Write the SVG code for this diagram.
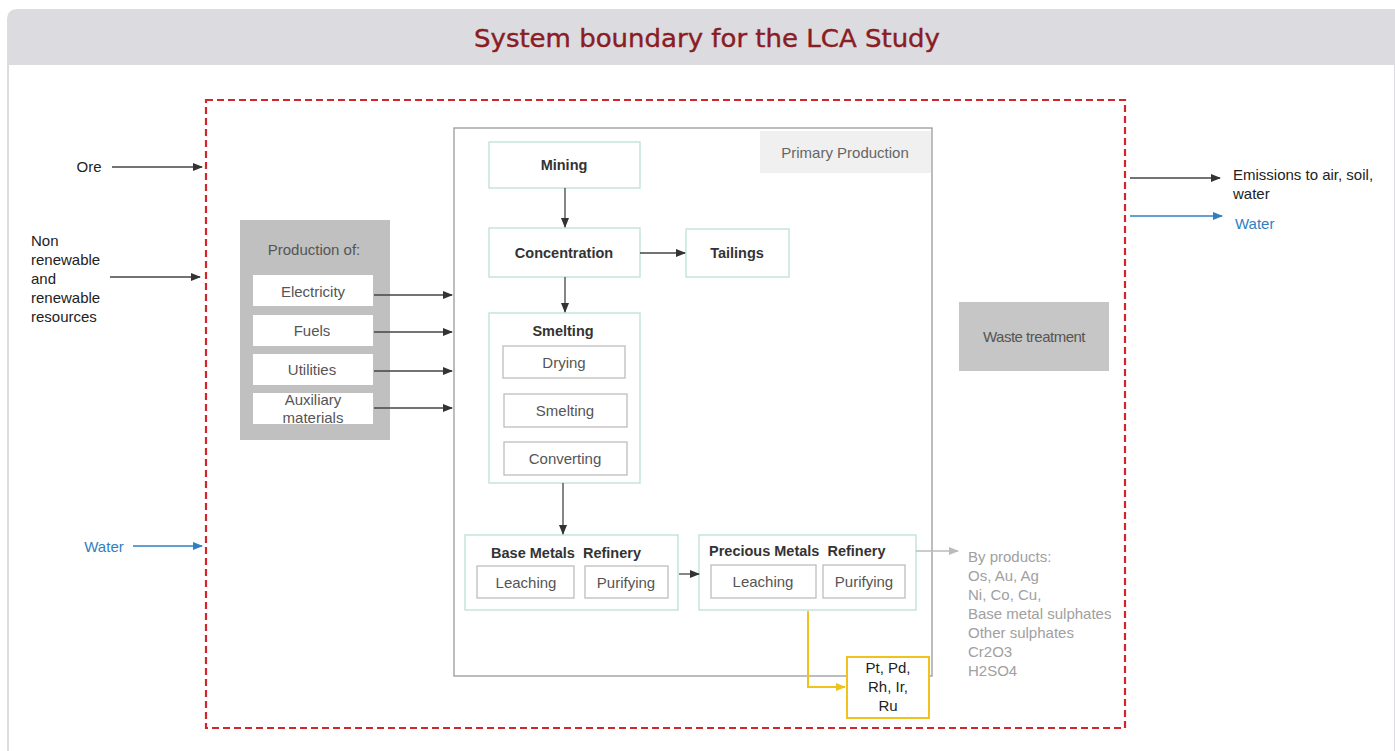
<svg xmlns="http://www.w3.org/2000/svg" width="1395" height="751" viewBox="0 0 1395 751">
<defs>
<style>
.t{font-family:"Liberation Sans",Arial,sans-serif;}
.box{fill:#fff;stroke:#c5e3de;stroke-width:1.5;}
.sub{fill:#fff;stroke:#b8b8b8;stroke-width:1.2;}
.wb{fill:#fff;stroke:none;}
.lbl{font-size:15px;fill:#555;text-anchor:middle;}
.bold{font-size:14.5px;font-weight:bold;fill:#333;text-anchor:middle;}
.c{stroke:#444;stroke-width:1.3;fill:none;}
.blue{stroke:#2f7fc1;stroke-width:1.3;fill:none;}
</style>
<marker id="ab" markerWidth="10" markerHeight="8" refX="9" refY="4" orient="auto" markerUnits="userSpaceOnUse"><path d="M0,0 L10,4 L0,8 z" fill="#333"/></marker>
<marker id="abl" markerWidth="10" markerHeight="8" refX="9" refY="4" orient="auto" markerUnits="userSpaceOnUse"><path d="M0,0 L10,4 L0,8 z" fill="#2f7fc1"/></marker>
<marker id="ag" markerWidth="10" markerHeight="8" refX="9" refY="4" orient="auto" markerUnits="userSpaceOnUse"><path d="M0,0 L10,4 L0,8 z" fill="#bbb"/></marker>
<marker id="ay" markerWidth="10" markerHeight="8" refX="9" refY="4" orient="auto" markerUnits="userSpaceOnUse"><path d="M0,0 L10,4 L0,8 z" fill="#f0c21a"/></marker>
</defs>
<rect width="1395" height="751" fill="#fff"/>
<g id="frame">
<path d="M8,751 V20 Q8,10 18,10 H1395 V751" fill="#fff" stroke="#dcdce0" stroke-width="2"/>
<path d="M8,65 V20 Q8,10 18,10 H1395 V65 Z" fill="#dcdce0"/>
<text x="707" y="47" font-family="DejaVu Sans,Verdana,sans-serif" font-size="25" fill="#8a1c24" stroke="#8a1c24" stroke-width="0.4" text-anchor="middle" textLength="466" lengthAdjust="spacingAndGlyphs">System boundary for the LCA Study</text>
</g>
<g id="boundary">
<rect x="206" y="100" width="919" height="628" fill="none" stroke="#d0272f" stroke-width="2.2" stroke-dasharray="7,4"/>
</g>
<g id="primary-production">
<rect x="454" y="128" width="478" height="548" fill="#fff" stroke="#9a9a9a" stroke-width="1.3"/>
<rect x="760" y="131" width="171" height="42" fill="#f0f0f0"/>
<text class="t" x="845" y="158" font-size="15" fill="#666" text-anchor="middle">Primary Production</text>
</g>
<g id="mining"><rect class="box" x="489" y="142" width="151" height="46"/><text class="t bold" x="564" y="170">Mining</text></g>
<g id="concentration"><rect class="box" x="489" y="228" width="151" height="49"/><text class="t bold" x="564" y="258">Concentration</text></g>
<g id="tailings"><rect class="box" x="686" y="229" width="103" height="48"/><text class="t bold" x="737" y="258">Tailings</text></g>
<g id="smelting">
<rect class="box" x="489" y="313" width="151" height="170"/>
<text class="t bold" x="563" y="336">Smelting</text>
<rect class="sub" x="503" y="346" width="122" height="32"/><text class="t lbl" x="564" y="368">Drying</text>
<rect class="sub" x="504" y="394" width="123" height="33"/><text class="t lbl" x="565" y="416">Smelting</text>
<rect class="sub" x="504" y="442" width="123" height="33"/><text class="t lbl" x="565" y="464">Converting</text>
</g>
<g id="base-metals-refinery">
<rect class="box" x="465" y="535" width="213" height="75"/>
<text class="t bold" x="566" y="558">Base Metals&#160; Refinery</text>
<rect class="sub" x="477" y="566" width="97" height="32"/><text class="t lbl" x="526" y="588">Leaching</text>
<rect class="sub" x="585" y="566" width="83" height="32"/><text class="t lbl" x="626" y="588">Purifying</text>
</g>
<g id="precious-metals-refinery">
<rect class="box" x="699" y="535" width="217" height="75"/>
<text class="t" x="709" y="556" font-size="14.5" font-weight="bold" fill="#333">Precious Metals&#160; Refinery</text>
<rect class="sub" x="711" y="565" width="105" height="33"/><text class="t lbl" x="763" y="587">Leaching</text>
<rect class="sub" x="823" y="565" width="82" height="33"/><text class="t lbl" x="864" y="587">Purifying</text>
</g>
<g id="pgm">
<rect x="847" y="657" width="82" height="61" fill="#fff" stroke="#f0c21a" stroke-width="2"/>
<text class="t" font-size="15" fill="#222" text-anchor="middle"><tspan x="888" y="673">Pt, Pd,</tspan><tspan x="888" y="692">Rh, Ir,</tspan><tspan x="888" y="711">Ru</tspan></text>
</g>
<g id="production-of">
<rect x="240" y="220" width="150" height="220" fill="#c0c0c0"/>
<text class="t" x="314" y="255" font-size="15" fill="#555" text-anchor="middle">Production of:</text>
<rect class="wb" x="253" y="275" width="120" height="31"/><text class="t lbl" x="313" y="297">Electricity</text>
<rect class="wb" x="253" y="315" width="120" height="31"/><text class="t lbl" x="312" y="336">Fuels</text>
<rect class="wb" x="253" y="354" width="120" height="31"/><text class="t lbl" x="312" y="375">Utilities</text>
<rect class="wb" x="253" y="393" width="120" height="31"/><text class="t lbl" font-size="14"><tspan x="313" y="405">Auxiliary</tspan><tspan x="313" y="423">materials</tspan></text>
</g>
<g id="waste-treatment">
<rect x="959" y="302" width="150" height="69" fill="#c6c6c6"/>
<text class="t" x="1034" y="342" font-size="15" fill="#555" text-anchor="middle" letter-spacing="-0.5">Waste treatment</text>
</g>
<g id="inputs">
<text class="t" x="89" y="172" font-size="15" fill="#222" text-anchor="middle">Ore</text>
<text class="t" font-size="15" fill="#222"><tspan x="31" y="246">Non</tspan><tspan x="31" y="265">renewable</tspan><tspan x="31" y="284">and</tspan><tspan x="31" y="303">renewable</tspan><tspan x="31" y="322">resources</tspan></text>
<text class="t" x="104" y="552" font-size="15" fill="#2f7fc1" text-anchor="middle">Water</text>
</g>
<g id="outputs">
<text class="t" font-size="15" fill="#222"><tspan x="1233" y="180">Emissions to air, soil,</tspan><tspan x="1233" y="199">water</tspan></text>
<text class="t" x="1235" y="229" font-size="15" fill="#2f7fc1">Water</text>
<text class="t" font-size="15" fill="#a0a0a0"><tspan x="968" y="562">By products:</tspan><tspan x="968" y="581">Os, Au, Ag</tspan><tspan x="968" y="600">Ni, Co, Cu,</tspan><tspan x="968" y="619">Base metal sulphates</tspan><tspan x="968" y="638">Other sulphates</tspan><tspan x="968" y="657">Cr2O3</tspan><tspan x="968" y="676">H2SO4</tspan></text>
</g>
<g id="connectors">
<line class="c" x1="112" y1="167" x2="202" y2="167" marker-end="url(#ab)"/>
<line class="c" x1="110" y1="277" x2="200" y2="277" marker-end="url(#ab)"/>
<line class="blue" x1="133" y1="546" x2="202" y2="546" marker-end="url(#abl)"/>
<line class="c" x1="1130" y1="178" x2="1220" y2="178" marker-end="url(#ab)"/>
<line class="blue" x1="1130" y1="216" x2="1222" y2="216" marker-end="url(#abl)"/>
<line class="c" x1="374" y1="295" x2="452" y2="295" marker-end="url(#ab)"/>
<line class="c" x1="374" y1="332" x2="452" y2="332" marker-end="url(#ab)"/>
<line class="c" x1="374" y1="371" x2="452" y2="371" marker-end="url(#ab)"/>
<line class="c" x1="374" y1="408" x2="452" y2="408" marker-end="url(#ab)"/>
<line class="c" x1="565" y1="188" x2="565" y2="227" marker-end="url(#ab)"/>
<line class="c" x1="640" y1="253" x2="685" y2="253" marker-end="url(#ab)"/>
<line class="c" x1="565" y1="277" x2="565" y2="312" marker-end="url(#ab)"/>
<line class="c" x1="563" y1="483" x2="563" y2="534" marker-end="url(#ab)"/>
<line class="c" x1="679" y1="574" x2="699" y2="574" marker-end="url(#ab)"/>
<line x1="916" y1="551" x2="958" y2="551" stroke="#bbb" stroke-width="1.3" marker-end="url(#ag)"/>
<polyline points="808,611 808,687 845,687" fill="none" stroke="#f0c21a" stroke-width="2" marker-end="url(#ay)"/>
</g>
</svg>
